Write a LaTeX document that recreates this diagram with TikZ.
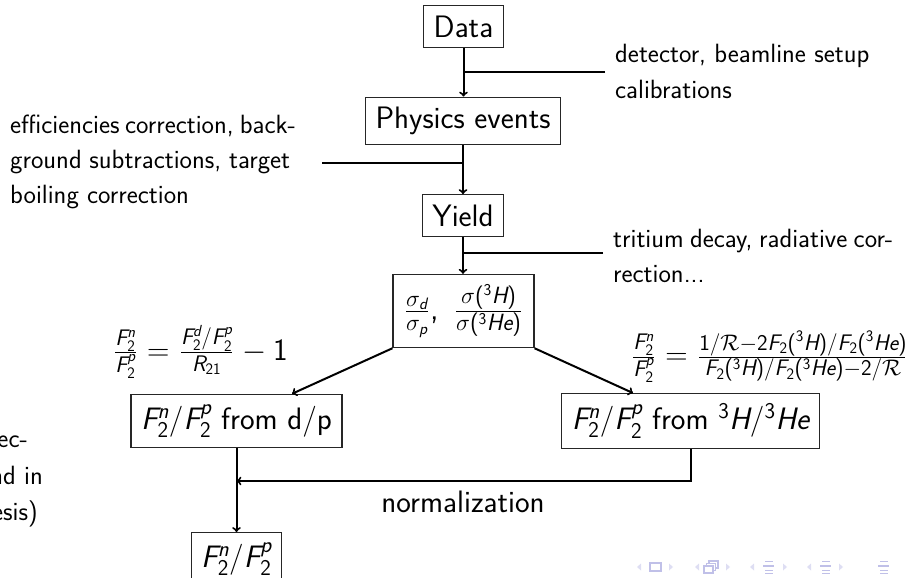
\RequirePackage{fix-cm}
\documentclass[tikz,border=0pt]{standalone}
\usepackage{amsmath}
\renewcommand\familydefault{\sfdefault}
% sans-serif math letters and digits, as on a beamer slide
\DeclareSymbolFont{sfit}{TU}{lmss}{m}{sl}
\DeclareSymbolFont{sfup}{TU}{lmss}{m}{n}
\DeclareMathSymbol{F}{\mathalpha}{sfit}{`F}
\DeclareMathSymbol{H}{\mathalpha}{sfit}{`H}
\DeclareMathSymbol{R}{\mathalpha}{sfit}{`R}
\DeclareMathSymbol{n}{\mathalpha}{sfit}{`n}
\DeclareMathSymbol{p}{\mathalpha}{sfit}{`p}
\DeclareMathSymbol{d}{\mathalpha}{sfit}{`d}
\DeclareMathSymbol{e}{\mathalpha}{sfit}{`e}
\DeclareMathSymbol{1}{\mathalpha}{sfup}{`1}
\DeclareMathSymbol{2}{\mathalpha}{sfup}{`2}
\DeclareMathSymbol{3}{\mathalpha}{sfup}{`3}
\DeclareMathSymbol{(}{\mathopen}{sfup}{"28}
\DeclareMathSymbol{)}{\mathclose}{sfup}{"29}
\DeclareMathSymbol{/}{\mathord}{sfup}{"2F}
\DeclareMathSizes{31}{31}{22.5}{16}
\DeclareMathSizes{33}{33}{23.5}{16.5}
\definecolor{navc}{RGB}{192,192,232}
\definecolor{navdim}{RGB}{222,222,243}
\begin{document}
\begin{tikzpicture}[x=1pt,y=-1pt,
  every node/.style={font=\fontsize{31}{37}\selectfont},
  box/.style={draw=black!85, line width=1.1pt, inner sep=10pt},
  link/.style={line width=2pt},
  note/.style={font=\fontsize{26.4}{35}\selectfont, inner sep=0pt},
  navtri/.style={fill=navdim, draw=none},
  navicon/.style={draw=navc, line width=1.2pt},
]
\nulldelimiterspace=3pt
\useasboundingbox (0,0) rectangle (905,578);
\clip (0,0) rectangle (905,578);

% main chain of boxes
\node[box] (data)  at (463.5,26.5) {Data};
\node[box] (phys)  at (463,121)    {Physics events};
\node[box] (yield) at (463,215.5)  {Yield};
\node[box, font=\fontsize{33}{40}\selectfont] (sig) at (463.5,311)
  {$\frac{\sigma_d}{\sigma_p}$,\hspace{14pt}$\frac{\sigma(^3H)}{\sigma(^3He)}$};
\node[box] (L)     at (236.5,421)  {$F_2^n/F_2^p$ from d/p};
\node[box] (R)     at (690.5,421)  {$F_2^n/F_2^p$ from $^3H/^3He$};
\node[box, anchor=north] (B) at (236.5,532) {$F_2^n/F_2^p$};

% vertical flow
\draw[link,->] (data.south) -- (data.south |- phys.north);
\draw[link,->] (phys.south) -- (phys.south |- yield.north);
\draw[link,->] (yield.south) -- (yield.south |- sig.north);

% side inputs joining the flow
\coordinate (t1) at (605,72);
\coordinate (t2) at (322,163);
\coordinate (t3) at (603,253);
\draw[link] (t1) -- (t1 -| data.south);
\draw[link] (t2) -- (t2 -| phys.south);
\draw[link] (t3) -- (t3 -| yield.south);

% split into the two extraction methods
\draw[link,->] (sig.south west) -- ([xshift=55.5pt]L.north);
\draw[link,->] (sig.south east) -- ([xshift=-57.5pt]R.north);

% normalization and final result
\coordinate (m) at (690.5,481);
\draw[link,->] (R.south) |- (L.south |- m);
\draw[link,->] (L.south) -- (L.south |- B.north);
\node[anchor=base] (norm) at (463,512) {normalization};

% formulas
\node (fl) at (200,352) {$\frac{F_2^n}{F_2^p} = \frac{F_2^d/F_2^p}{R_{21}} - 1$};
\node (fr) at (770,357) {$\frac{F_2^n}{F_2^p} = \frac{1/\mathcal{R}-2F_2(^3H)/F_2(^3He)}{F_2(^3H)/F_2(^3He)-2/\mathcal{R}}$};

% side notes
\node[note, anchor=base west] (r1a) at (615,63) {detector, beamline setup};
\node[note, anchor=base west] (r1b) at (615,98) {calibrations};
\node[note, anchor=base west] (l1a) at (10,133) {\makebox[283pt][s]{efficiencies correction, back-}};
\node[note, anchor=base west] (l1b) at (10,168) {\makebox[280pt][s]{ground subtractions, target}};
\node[note, anchor=base west] (l1c) at (10,203.5) {boiling correction};
\node[note, anchor=base west] (r2a) at (613,247) {\makebox[280pt][s]{tritium decay, radiative cor-}};
\node[note, anchor=base west] (r2b) at (613,282) {rection...};
\node[note, anchor=base east] (c1) at (28,447) {ec-};
\node[note, anchor=base east] (c2) at (43,484) {nd in};
\node[note, anchor=base east] (c3) at (38,520) {esis)};

% navigation symbols
\foreach \x in {637,695,750,807}
  \fill[navtri] (\x,567) -- ++(4,-3.5) -- ++(0,7) -- cycle;
\foreach \x in {673,730,787,843}
  \fill[navtri] (\x,567) -- ++(-4,-3.5) -- ++(0,7) -- cycle;
\draw[navicon] (650,563) rectangle (661,571);
\draw[navicon, fill=white] (709,561) rectangle (718,568);
\draw[navicon, fill=white] (706.5,563.5) rectangle (715.5,570.5);
\draw[navicon, fill=white] (704,566) rectangle (713,573);
\foreach \x in {763,820,878} {
  \draw[navc, line width=1pt] (\x+2,561.5) -- ++(8,0);
  \draw[navc, line width=2pt] (\x,566) -- ++(11,0);
  \draw[navc, line width=1pt] (\x+2,570) -- ++(8,0);
  \draw[navc, line width=1pt] (\x+2,573.5) -- ++(8,0);
}
\end{tikzpicture}
\end{document}
